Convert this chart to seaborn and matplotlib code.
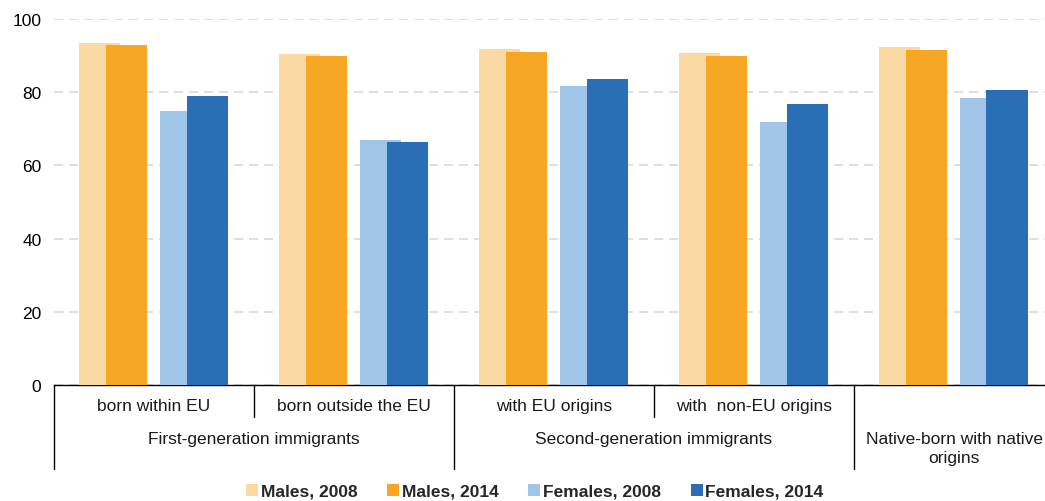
import numpy as np
import pandas as pd
import seaborn as sns
import matplotlib.pyplot as plt
from matplotlib.lines import Line2D
from matplotlib.transforms import blended_transform_factory

# ---- data ----
subcats = ["born within EU", "born outside the EU", "with EU origins",
           "with  non-EU origins", ""]
cat_keys = ["c1", "c2", "c3", "c4", "c5"]
groups = ["First-generation immigrants", "Second-generation immigrants",
          "Native-born with native\norigins"]
group_spans = [(0, 1), (2, 3), (4, 4)]
series = ["Males, 2008", "Males, 2014", "Females, 2008", "Females, 2014"]
males_2008 = [93.5, 90.4, 91.8, 90.7, 92.3]
males_2014 = [92.9, 89.8, 90.9, 89.8, 91.6]
females_2008 = [74.9, 67.0, 81.6, 71.8, 78.3]
females_2014 = [78.9, 66.3, 83.5, 76.9, 80.5]
colors = ["#FBD9A3", "#F6A623", "#A1C5E9", "#2A6FB5"]

rows = []
for s, vals in zip(series, [males_2008, males_2014, females_2008, females_2014]):
    for k, v in zip(cat_keys, vals):
        rows.append({"cat": k, "series": s, "value": v})
df = pd.DataFrame(rows)

sns.set_theme(style="white")
plt.rcParams["font.family"] = ["Liberation Sans", "DejaVu Sans"]

fig = plt.figure(figsize=(10.45, 5.02), dpi=100)
ax = fig.add_axes([54 / 1045, 1 - 386 / 502, (1045 - 54) / 1045, (386 - 20) / 502])

sns.barplot(data=df, x="cat", y="value", hue="series", order=cat_keys,
            hue_order=series, palette=colors, saturation=1, width=0.8,
            dodge=True, errorbar=None, legend=False, ax=ax, linewidth=0)

# overlapping bar layout like the original
old_offsets = np.array([-0.3, -0.1, 0.1, 0.3])
new_offsets = [-0.2725, -0.1375, 0.13, 0.265]
bw = 0.205
for p in ax.patches:
    cx = p.get_x() + p.get_width() / 2
    cat = round(cx)
    idx = int(np.argmin(np.abs(old_offsets - (cx - cat))))
    p.set_width(bw)
    p.set_x(cat + new_offsets[idx] - bw / 2)
    p.set_zorder(3 + idx * 0.1)

ax.set_xlim(-0.5, (1045 - 54) / 200 - 0.5)
ax.set_ylim(0, 100)
ax.set_yticks([0, 20, 40, 60, 80, 100])
ax.tick_params(axis="y", labelsize=12.5, colors="#000000", length=0, pad=9)
ax.set_xticks([])
ax.set_xlabel("")
ax.set_ylabel("")
for sp in ["left", "right", "top"]:
    ax.spines[sp].set_visible(False)
ax.spines["bottom"].set_color("#000000")
ax.spines["bottom"].set_linewidth(1)
ax.yaxis.grid(True, color="#d9d9d9", linestyle=(0, (5.5, 3.5)), linewidth=1.2)
ax.set_axisbelow(True)

# hierarchical x axis labels
trans = blended_transform_factory(ax.transData, ax.transAxes)
px = 1 / 366.0
for i, lab in enumerate(subcats):
    if lab:
        ax.text(i, -21 * px, lab, transform=trans, ha="center", va="center",
                fontsize=12.5, color="#1a1a1a", clip_on=False)
for g, (a, b) in zip(groups, group_spans):
    ax.text((a + b) / 2, -46 * px, g, transform=trans, ha="center", va="top",
            fontsize=12.5, color="#1a1a1a", clip_on=False, linespacing=1.3)
# divider lines
for x in [0.5, 2.5]:
    ax.plot([x, x], [0, -32 * px], transform=trans, color="#000000", lw=1, clip_on=False)
for x in [-0.5, 1.5, 3.5]:
    ax.plot([x, x], [0, -84 * px], transform=trans, color="#000000", lw=1, clip_on=False)

handles = [Line2D([], [], marker="s", linestyle="", markersize=8,
                  markerfacecolor=c, markeredgewidth=0) for c in colors]
fig.legend(handles, series, loc="center", bbox_to_anchor=(534 / 1045, 1 - 492 / 502),
           ncol=4, frameon=False, prop={"weight": "bold", "size": 12.5},
           handletextpad=0.05, columnspacing=1.6, handlelength=0.9)

fig.savefig("out.png", dpi=100)
